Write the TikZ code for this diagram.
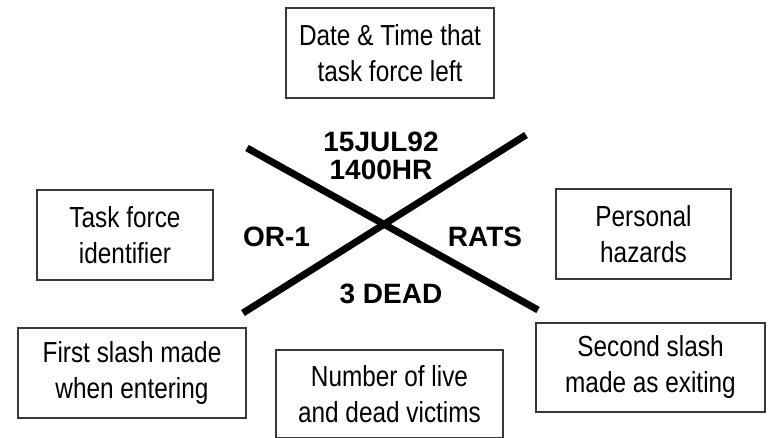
\documentclass[tikz,border=0pt]{standalone}
\usepackage{fontspec}
\setmainfont{Liberation Sans}
\newfontfamily\narrowfont[FakeStretch=0.84]{Liberation Sans}
\usetikzlibrary{positioning}

\begin{document}
\begin{tikzpicture}[
	% One unit is one pixel of the 769x438 sheet, y grows downwards.
	x=1pt, y=-1pt
	]
	% Define custom styles to keep the code short.
	\tikzset{
		infobox/.style={draw=black!78, line width=2pt, rectangle, minimum height=90pt, inner sep=0pt, align=center, font=\narrowfont\fontsize{29}{36}\selectfont},
		slashtext/.style={inner sep=0pt, align=center, font=\bfseries\fontsize{28}{28}\selectfont},
		slash/.style={line width=7pt}
	}
	\useasboundingbox (0,0) rectangle (769,438);
	
	% === BOXES ===
	% Explanations placed round the mark.
	
	\node[infobox, minimum width=208pt] (datetime) at (390,53) {Date \& Time that\\task force left};
	\node[infobox, minimum width=176pt] (taskforce) at (125,235) {Task force\\identifier};
	\node[infobox, minimum width=175pt] (hazards) at (643.5,234) {Personal\\hazards};
	\node[infobox, minimum width=228pt] (firstslash) at (132,373) {First slash made\\when entering};
	\node[infobox, minimum width=227pt, minimum height=88pt] (victims) at (389.5,394) {Number of live\\and dead victims};
	\node[infobox, minimum width=229pt, minimum height=89pt] (secondslash) at (650.5,367.5) {Second slash\\made as exiting};
	
	% === MARK ===
	% End points of the two slashes.
	
	\coordinate (first start) at (247,148);
	\coordinate (first end) at (538,310);
	\coordinate (second start) at (243,313);
	\coordinate (second end) at (526,135);
	
	\draw[slash] (first start) -- (first end);
	\draw[slash] (second start) -- (second end);
	
	% Entries written in the four quarters.
	\node[slashtext] (stamp) at (381,156) {15JUL92\\1400HR};
	\node[slashtext] (unit) at (276.5,237) {OR-1};
	\node[slashtext] (risk) at (485,237) {RATS};
	\node[slashtext] (count) at (391,294) {3 DEAD};
\end{tikzpicture}
\end{document}
